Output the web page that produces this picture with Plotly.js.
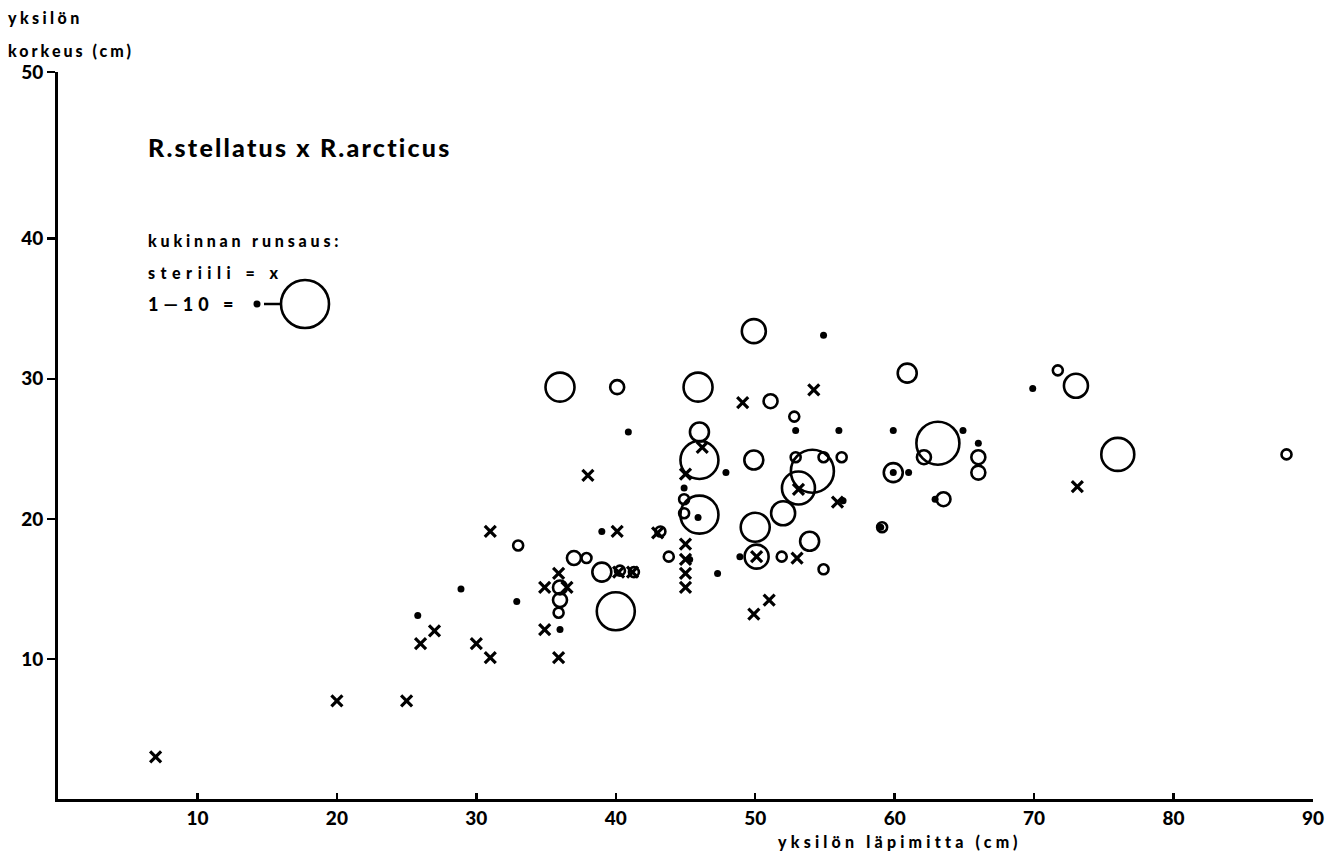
<!DOCTYPE html>
<html>
<head>
<meta charset="utf-8">
<script src="https://cdn.plot.ly/plotly-3.0.1.min.js"></script>
<style>
html,body{margin:0;padding:0;background:#fff;}
#chart{width:1342px;height:857px;}
</style>
</head>
<body>
<div id="chart"></div>
<script>
// Sterile individuals (x marks): diameter (cm), height (cm)
const sterileX = [7, 20, 25, 26, 27, 30, 31, 31, 34.9, 35.9, 34.9, 36.5, 35.9, 38, 40.1, 40.2, 41.2, 43, 45, 45, 45, 45, 45, 46.2, 49.1, 54.2, 53.1, 50.1, 53, 55.9, 51, 49.9, 73.1];
const sterileY = [3, 7, 7, 11.1, 12, 11.1, 10.1, 19.1, 12.1, 10.1, 15.1, 15.1, 16.1, 23.1, 19.1, 16.2, 16.2, 19, 23.2, 18.2, 17.1, 16.1, 15.1, 25.1, 28.3, 29.2, 22.1, 17.3, 17.2, 21.2, 14.2, 13.2, 22.3];

// Flowering individuals: diameter (cm), height (cm), flowering abundance 1-10
const flowX = [25.8, 28.9, 32.9, 36.0, 39.0, 40.9, 44.9, 45.3, 45.9, 47.3, 47.9, 48.9, 52.9, 56.0, 56.3, 54.9, 59.9, 64.9, 66.0, 59.0, 59.9, 61.0, 62.9, 69.9,
  36.0, 40.1, 45.9, 46.0, 46.0, 49.9, 51.1, 52.8, 49.9, 52.9, 54.9, 56.2, 54.1, 53.1, 52.0, 50.0, 50.1, 51.9, 53.9, 54.9, 59.1, 59.9, 60.9, 62.1, 63.1, 63.5, 66.0, 66.0, 71.7, 73.0, 76.0, 88.1,
  46.0, 44.9, 44.9, 43.8, 37.0, 37.9, 39.0, 40.0, 36.0, 36.0, 35.9, 33.0, 40.3, 41.3, 43.2];
const flowY = [13.1, 15.0, 14.1, 12.1, 19.1, 26.2, 22.2, 17.1, 20.1, 16.1, 23.3, 17.3, 26.3, 26.3, 21.3, 33.1, 26.3, 26.3, 25.4, 19.4, 23.3, 23.3, 21.4, 29.3,
  29.4, 29.4, 29.4, 26.2, 24.2, 33.4, 28.4, 27.3, 24.2, 24.4, 24.4, 24.4, 23.4, 22.2, 20.4, 19.4, 17.3, 17.3, 18.4, 16.4, 19.4, 23.3, 30.4, 24.4, 25.4, 21.4, 24.4, 23.3, 30.6, 29.5, 24.6, 24.6,
  20.3, 21.4, 20.4, 17.3, 17.2, 17.2, 16.2, 13.4, 15.1, 14.2, 13.3, 18.1, 16.3, 16.2, 19.1];
const flowLevel = [1, 1, 1, 1, 1, 1, 1, 1, 1, 1, 1, 1, 1, 1, 1, 1, 1, 1, 1, 1, 1, 1, 1, 1,
  6, 3, 6, 4, 8, 5, 3, 2, 4, 2, 2, 2, 9, 7, 5, 6, 5, 2, 4, 2, 2, 4, 4, 3, 9, 3, 3, 3, 2, 5, 7, 2,
  8, 2, 2, 2, 3, 2, 4, 8, 3, 3, 2, 2, 2, 2, 2];

const xTickVals = [10, 20, 30, 40, 50, 60, 70, 80, 90];
const yTickVals = [10, 20, 30, 40, 51.9];
const yTickText = ["10", "20", "30", "40", "50"];

// ---- styling ----
const sizeByLevel = [0, 7, 10, 14, 19, 24, 29, 33, 38, 43, 48];
const dotIdx = [], ringIdx = [];
flowLevel.forEach((l, i) => (l === 1 ? dotIdx : ringIdx).push(i));
const pick = (arr, idx) => idx.map(i => arr[i]);

const FONT = "Lato, 'DejaVu Sans', sans-serif";
const L = 58, T = 72, W = 1255, H = 727;
const px = v => (v - L) / W;
const py = v => (T + H - v) / H;
const sp = (s, n) => `<span style="letter-spacing:${n}px">${s}</span>`;

const traces = [
  {
    type: 'scatter', mode: 'markers',
    x: pick(flowX, ringIdx), y: pick(flowY, ringIdx),
    marker: {symbol: 'circle-open', color: '#000', opacity: 1,
      size: pick(flowLevel, ringIdx).map(l => sizeByLevel[l]),
      line: {width: 2.6, color: '#000'}},
    hoverinfo: 'skip', showlegend: false
  },
  {
    type: 'scatter', mode: 'markers',
    x: pick(flowX, dotIdx), y: pick(flowY, dotIdx),
    marker: {symbol: 'circle', color: '#000', opacity: 1, size: sizeByLevel[1], line: {width: 0}},
    hoverinfo: 'skip', showlegend: false
  },
  {
    type: 'scatter', mode: 'markers',
    x: sterileX, y: sterileY,
    marker: {symbol: 'x-thin-open', color: '#000', opacity: 1, size: 11, line: {width: 3.2, color: '#000'}},
    hoverinfo: 'skip', showlegend: false
  }
];

const annFont = (s) => ({family: FONT, size: s, color: '#000', weight: 900});
const ann = (text, x, y, size, anchor) => ({text, x: px(x), y: py(y), xref: 'paper', yref: 'paper',
  xanchor: anchor || 'left', yanchor: 'middle', showarrow: false, font: annFont(size)});
const annotations = [
  ann(sp('yksilön', 3.4), 6, 18, 16),
  ann(sp('korkeus (cm)', 3), 6, 50, 16),
  ann(sp('R.stellatus x R.arcticus', 2.2), 146, 147, 25),
  ann(sp('kukinnan runsaus:', 3.8), 146, 240, 16),
  ann(sp('steriili = x', 5.5), 146, 272, 16),
  ann(sp('1—10 =', 5), 146, 304, 18),
  ann(sp('yksilön läpimitta (cm)', 4.2), 900, 841, 16, 'center')
];

const shapes = [
  // legend: small dot — line — big circle
  {type: 'circle', xref: 'paper', yref: 'paper', xsizemode: 'pixel', ysizemode: 'pixel',
   xanchor: px(257), yanchor: py(304), x0: -3.5, x1: 3.5, y0: -3.5, y1: 3.5,
   line: {width: 0}, fillcolor: '#000'},
  {type: 'line', xref: 'paper', yref: 'paper', x0: px(264), x1: px(281), y0: py(304), y1: py(304),
   line: {color: '#000', width: 2.5}},
  {type: 'circle', xref: 'paper', yref: 'paper', xsizemode: 'pixel', ysizemode: 'pixel',
   xanchor: px(305), yanchor: py(304), x0: -24, x1: 24, y0: -24, y1: 24,
   line: {color: '#000', width: 2.6}, fillcolor: 'rgba(0,0,0,0)'}
];

const tickFont = {family: FONT, size: 19, color: '#000', weight: 900};
const layout = {
  width: 1342, height: 857,
  margin: {l: L, r: 1342 - L - W, t: T, b: 857 - T - H, pad: 0},
  paper_bgcolor: '#fff', plot_bgcolor: '#fff',
  showlegend: false,
  xaxis: {range: [0, 90], tickvals: xTickVals, ticks: 'inside', ticklen: 6, tickwidth: 2.5, tickcolor: '#000',
    showline: true, linewidth: 3, linecolor: '#000', showgrid: false, zeroline: false,
    tickfont: tickFont, ticklabelstandoff: 0},
  yaxis: {range: [0, 51.9], tickvals: yTickVals, ticktext: yTickText, ticks: 'outside', ticklen: 8, tickwidth: 2.5, tickcolor: '#000',
    showline: true, linewidth: 3, linecolor: '#000', showgrid: false, zeroline: false,
    tickfont: tickFont, ticklabelstandoff: 0},
  annotations: annotations,
  shapes: shapes
};

Plotly.newPlot('chart', traces, layout, {displayModeBar: false, staticPlot: true});
</script>
</body>
</html>
